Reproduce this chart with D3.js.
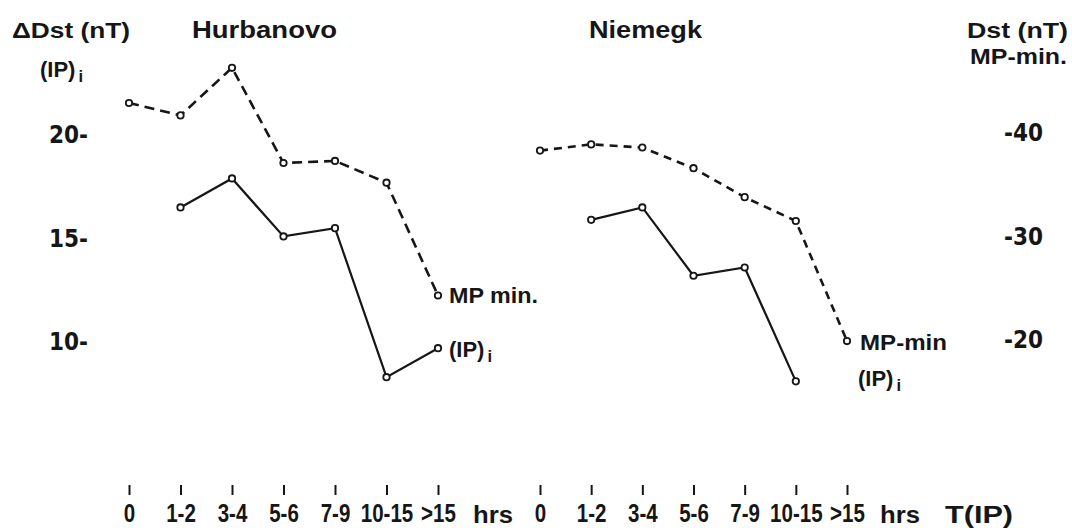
<!DOCTYPE html>
<html><head>
<meta charset="UTF-8">
<title>Dst and T(IP) - Hurbanovo / Niemegk</title>
<script src="https://cdn.jsdelivr.net/npm/d3@7"></script>
<style>
  body { margin: 0; background: #fff; }
  svg text { font-family: "Liberation Sans", Arial, sans-serif; font-weight: bold; fill: #161616; }
  svg .yaxis .tick text { font-family: "DejaVu Sans Condensed", sans-serif; }
</style>
</head>
<body>
<div id="chart"></div>
<script>
  // T(IP) classes (hours)
  const categories = ["0", "1-2", "3-4", "5-6", "7-9", "10-15", ">15"];
  // Hurbanovo
  const hurbMP = [-42.9, -41.7, -46.3, -37.1, -37.3, -35.2, -24.3];
  const hurbIP = [null, 16.5, 17.9, 15.1, 15.5, 8.3, 9.7];
  // Niemegk
  const niemMP = [-38.3, -38.9, -38.6, -36.6, -33.8, -31.5, -19.9];
  const niemIP = [null, 15.9, 16.5, 13.2, 13.6, 8.1, null];
  const leftTicks = [10, 15, 20];
  const rightTicks = [-40, -30, -20];

  const width = 1072, height = 528;
  const ink = "#161616";

  const svg = d3.select("#chart").append("svg")
    .attr("width", width)
    .attr("height", height);

  const yIP = d3.scaleLinear().domain([10, 20]).range([342, 135]);
  const yMP = d3.scaleLinear().domain([-40, -20]).range([133, 340]);
  const xH = d3.scalePoint().domain(categories).range([129, 438]);
  const xN = d3.scalePoint().domain(categories).range([540, 847]);

  const panels = [
    { name: "Hurbanovo", x: xH, mp: hurbMP, ip: hurbIP, dash: "10,6" },
    { name: "Niemegk", x: xN, mp: niemMP, ip: niemIP, dash: "8,6" }
  ];

  // left axis
  svg.append("g")
    .attr("class", "yaxis")
    .attr("transform", "translate(88,0)")
    .call(d3.axisLeft(yIP).tickValues(leftTicks).tickSize(0).tickPadding(0).tickFormat(d => d + "-"))
    .attr("font-size", 24)
    .call(g => g.select(".domain").remove());

  // right axis
  svg.append("g")
    .attr("class", "yaxis")
    .attr("transform", "translate(1004,0)")
    .call(d3.axisRight(yMP).tickValues(rightTicks).tickSize(0).tickPadding(0).tickFormat(d => "-" + (-d)))
    .attr("font-size", 24)
    .call(g => g.select(".domain").remove());

  panels.forEach(p => {
    // bottom axis, labels squeezed to look like the narrow lettering of the original
    svg.append("g")
      .attr("transform", "translate(0,485)")
      .call(d3.axisBottom(p.x).tickSize(10).tickPadding(9))
      .attr("font-size", 25)
      .call(g => g.select(".domain").remove())
      .call(g => g.selectAll(".tick line").attr("stroke", ink).attr("stroke-width", 2))
      .call(g => g.selectAll(".tick text").each(function() {
        const w = this.getComputedTextLength();
        this.setAttribute("textLength", w * 0.82);
        this.setAttribute("lengthAdjust", "spacingAndGlyphs");
      }));

    const mpLine = d3.line()
      .defined(d => d != null)
      .x((d, i) => p.x(categories[i]))
      .y(d => yMP(d));
    const ipLine = d3.line()
      .defined(d => d != null)
      .x((d, i) => p.x(categories[i]))
      .y(d => yIP(d));

    svg.append("path")
      .attr("d", mpLine(p.mp))
      .attr("fill", "none")
      .attr("stroke", ink)
      .attr("stroke-width", 2.6)
      .attr("stroke-dasharray", p.dash);

    svg.append("path")
      .attr("d", ipLine(p.ip))
      .attr("fill", "none")
      .attr("stroke", ink)
      .attr("stroke-width", 2.2);

    const pts = [];
    p.mp.forEach((v, i) => { if (v != null) pts.push([p.x(categories[i]), yMP(v)]); });
    p.ip.forEach((v, i) => { if (v != null) pts.push([p.x(categories[i]), yIP(v)]); });

    svg.selectAll(null)
      .data(pts)
      .enter().append("circle")
      .attr("cx", d => d[0])
      .attr("cy", d => d[1])
      .attr("r", 3.2)
      .attr("fill", "#fff")
      .attr("stroke", ink)
      .attr("stroke-width", 1.8);
  });

  function label(x, y, txt, size, len) {
    const t = svg.append("text")
      .attr("x", x)
      .attr("y", y)
      .attr("font-size", size)
      .text(txt);
    if (len) t.attr("textLength", len).attr("lengthAdjust", "spacingAndGlyphs");
    return t;
  }
  function ipLabel(x, y, size) {
    const t = svg.append("text")
      .attr("x", x)
      .attr("y", y)
      .attr("font-size", size);
    t.append("tspan").text("(IP)");
    t.append("tspan").attr("font-size", size * 0.75).attr("dy", 5).attr("dx", 3).text("i");
    return t;
  }

  // titles and axis headers
  label(12, 38, "ΔDst (nT)", 22, 118);
  ipLabel(40, 77, 22);
  label(192, 38, "Hurbanovo", 23, 145);
  label(589, 38, "Niemegk", 23, 113);
  label(967, 38, "Dst (nT)", 22, 101);
  label(970, 64, "MP-min.", 22, 97);

  // series labels
  const last = categories.length - 1;
  label(xH(categories[last]) + 11, yMP(hurbMP[last]) + 8, "MP min.", 22, 89);
  ipLabel(xH(categories[last]) + 11, yIP(hurbIP[last]) + 9, 22);
  label(xN(categories[last]) + 13, yMP(niemMP[last]) + 9, "MP-min", 22, 87);
  ipLabel(xN(categories[last]) + 11, yMP(niemMP[last]) + 45, 22);

  // x axis unit labels
  label(xH(categories[last]) + 35, 523, "hrs", 24, 40);
  label(xN(categories[last]) + 33, 523, "hrs", 24, 40);
  label(945, 523, "T(IP)", 24, 68);
</script>
</body></html>
